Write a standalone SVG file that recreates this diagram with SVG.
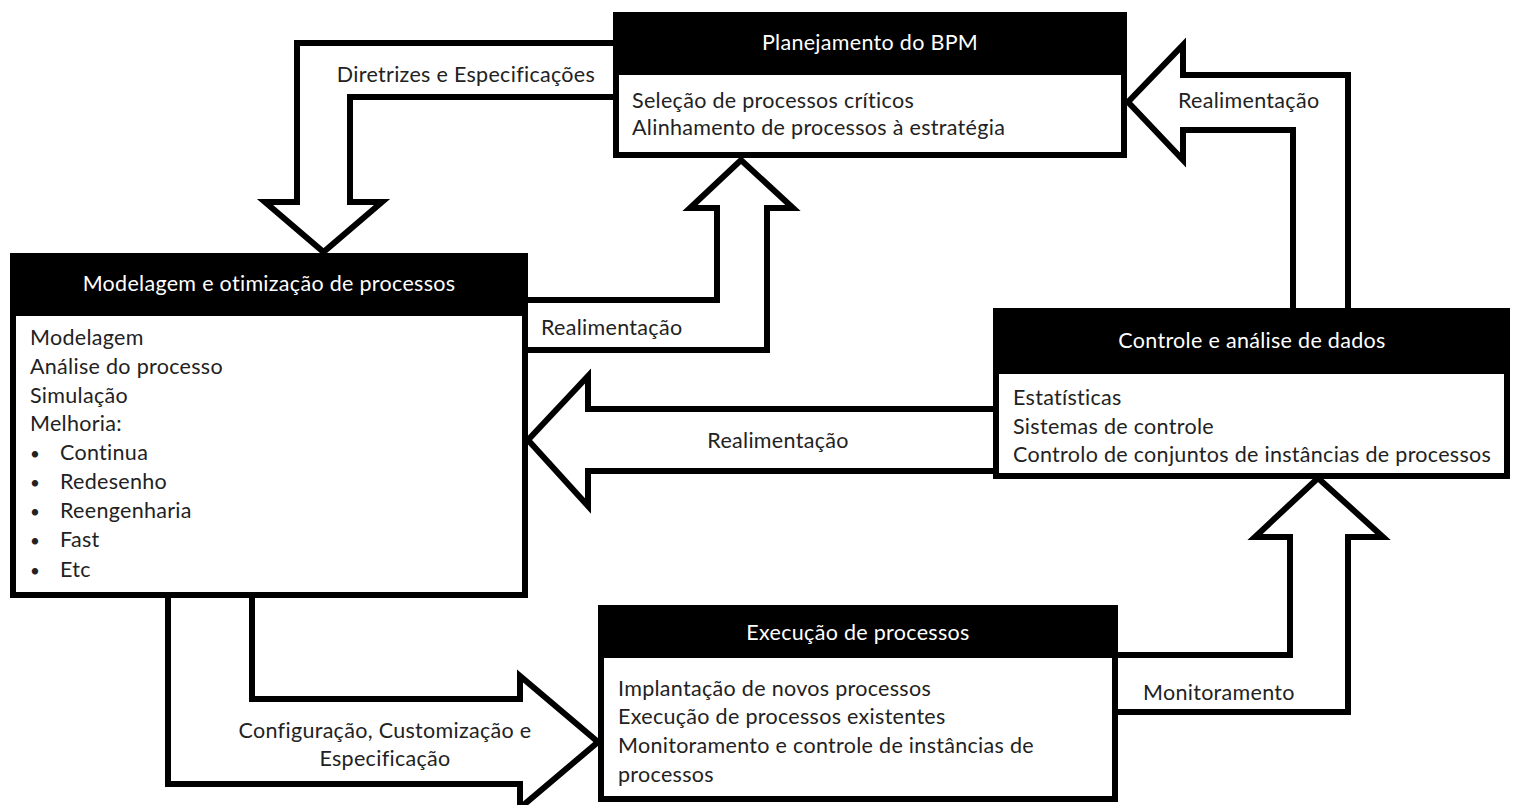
<svg xmlns="http://www.w3.org/2000/svg" width="1517" height="805" viewBox="0 0 1517 805">
<style>
text{font-family:Lato,"Liberation Sans",sans-serif;font-size:21.5px;letter-spacing:0.3px;fill:#222}
.hd{fill:#fff;text-anchor:middle}
.mid{text-anchor:middle}
.bul{font-size:17px}
.arrow{fill:#fff;stroke:#000;stroke-width:6;stroke-linejoin:miter}
.box{fill:#fff;stroke:#000;stroke-width:6}
.head{fill:#000}
</style>
<rect width="1517" height="805" fill="#fff"/>
<g id="connectors">
  <g id="c-diretrizes">
    <polygon class="arrow" points="616,43 297,43 297,202 265,202 323.5,252 382,202 350,202 350,97 616,97"/>
    <text x="466" y="82" class="mid">Diretrizes e Especificações</text>
  </g>
  <g id="c-modelagem-planejamento">
    <polygon class="arrow" points="525,300 717,300 717,208 690,208 741,160 793,208 767,208 767,350 525,350"/>
    <text x="541" y="335">Realimentação</text>
  </g>
  <g id="c-controle-planejamento">
    <polygon class="arrow" points="1348,311 1348,75 1183,75 1183,45 1128,102 1183,160 1183,130 1293,130 1293,311"/>
    <text x="1178" y="108">Realimentação</text>
  </g>
  <g id="c-controle-modelagem">
    <polygon class="arrow" points="996,409 588,409 588,376 528,440 588,506 588,471 996,471"/>
    <text x="778" y="448" class="mid">Realimentação</text>
  </g>
  <g id="c-modelagem-execucao">
    <polygon class="arrow" points="168,595 168,784 520,784 520,808 598,742 520,676 520,699 252,699 252,595"/>
    <text x="385" y="738" class="mid">Configuração, Customização e</text>
    <text x="385" y="766" class="mid">Especificação</text>
  </g>
  <g id="c-execucao-controle">
    <polygon class="arrow" points="1115,655 1290,655 1290,537 1255,537 1318,478 1383,537 1348,537 1348,712 1115,712"/>
    <text x="1143" y="700">Monitoramento</text>
  </g>
</g>
<g id="planejamento">
  <rect class="box" x="616" y="15" width="508" height="140"/>
  <rect class="head" x="613" y="12" width="514" height="63"/>
  <text x="870" y="50" class="hd">Planejamento do BPM</text>
  <text x="632" y="108">Seleção de processos críticos</text>
  <text x="632" y="135">Alinhamento de processos à estratégia</text>
</g>
<g id="modelagem">
  <rect class="box" x="13" y="256" width="512" height="339"/>
  <rect class="head" x="10" y="253" width="518" height="63"/>
  <text x="269" y="291" class="hd">Modelagem e otimização de processos</text>
  <text x="30" y="345">Modelagem</text>
  <text x="30" y="374">Análise do processo</text>
  <text x="30" y="403">Simulação</text>
  <text x="30" y="431">Melhoria:</text>
  <text x="30" y="460" class="bul">•</text><text x="60" y="460">Continua</text>
  <text x="30" y="489" class="bul">•</text><text x="60" y="489">Redesenho</text>
  <text x="30" y="518" class="bul">•</text><text x="60" y="518">Reengenharia</text>
  <text x="30" y="547" class="bul">•</text><text x="60" y="547">Fast</text>
  <text x="30" y="577" class="bul">•</text><text x="60" y="577">Etc</text>
</g>
<g id="controle">
  <rect class="box" x="996" y="311" width="511" height="165"/>
  <rect class="head" x="993" y="308" width="517" height="66"/>
  <text x="1252" y="348" class="hd">Controle e análise de dados</text>
  <text x="1013" y="405">Estatísticas</text>
  <text x="1013" y="434">Sistemas de controle</text>
  <text x="1013" y="462">Controlo de conjuntos de instâncias de processos</text>
</g>
<g id="execucao">
  <rect class="box" x="601" y="608" width="514" height="191"/>
  <rect class="head" x="598" y="605" width="520" height="53"/>
  <text x="858" y="640" class="hd">Execução de processos</text>
  <text x="618" y="696">Implantação de novos processos</text>
  <text x="618" y="724">Execução de processos existentes</text>
  <text x="618" y="753">Monitoramento e controle de instâncias de</text>
  <text x="618" y="782">processos</text>
</g>
</svg>
